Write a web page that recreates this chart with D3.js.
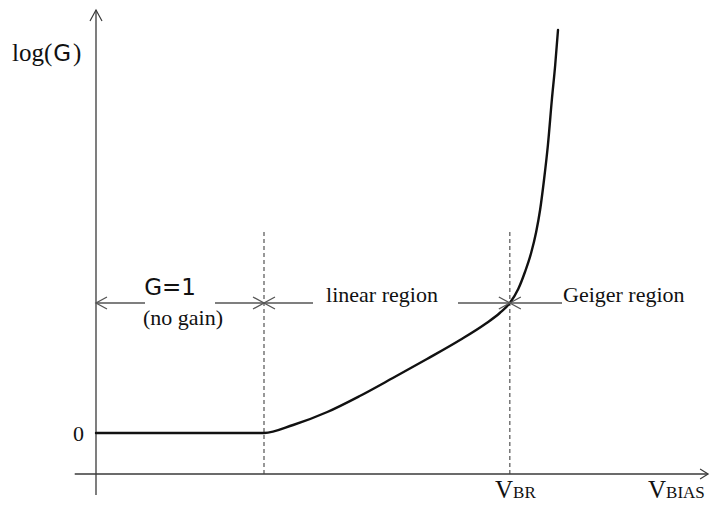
<!DOCTYPE html>
<html>
<head>
<meta charset="utf-8">
<script src="https://cdn.jsdelivr.net/npm/d3@7"></script>
<style>
  html, body { margin: 0; padding: 0; background: #fff; }
  svg { display: block; }
  .serif { font-family: "Liberation Serif", "DejaVu Serif", serif; fill: #111; }
  .sans { font-family: "DejaVu Sans", "Open Sans", sans-serif; fill: #111; }
</style>
</head>
<body>
<svg id="chart" width="711" height="506"></svg>
<script>
// Bias voltage (arbitrary units) and log gain along the gain curve
const biasV = [0, 3.0, 3.52, 4.13, 4.71, 5.30, 5.91, 6.50, 6.95, 7.21, 7.39, 7.54, 7.66, 7.77, 7.86, 7.93, 8.00, 8.07, 8.14, 8.20, 8.25];
const logGain = [0, 0, 0.16, 0.42, 0.74, 1.10, 1.48, 1.86, 2.18, 2.40, 2.60, 2.88, 3.22, 3.60, 4.02, 4.46, 5.06, 5.76, 6.66, 7.36, 8.06];

// Region boundaries: onset of gain and breakdown voltage
const kneeV = 3.0;
const breakdownV = 7.39;

const regionLabels = ["G=1", "(no gain)", "linear region", "Geiger region"];
const yTickLabels = ["0"];

const svg = d3.select("#chart");
const x = d3.scaleLinear().domain([0, 10]).range([96, 656]);
const y = d3.scaleLinear().domain([0, 8]).range([433, 33]);

const axisColor = "#3a3a3a";
const xAxisY = y(-0.82);
const xRight = x(10.93);
const yTop = y(8.46);

// open chevron arrow tip
function chevron(tx, ty, dir, len = 9, half = 5, color = axisColor, w = 1.2) {
  const g = svg.append("g").attr("transform", `translate(${tx},${ty}) rotate(${dir})`);
  g.append("path")
    .attr("d", `M${-len},${-half} L0,0 L${-len},${half}`)
    .attr("fill", "none").attr("stroke", color).attr("stroke-width", w);
}

// axes
svg.append("line").attr("x1", x(0)).attr("x2", x(0)).attr("y1", yTop).attr("y2", y(-1.24))
  .attr("stroke", axisColor).attr("stroke-width", 1.3);
chevron(x(0), yTop, -90, 11, 6);
svg.append("line").attr("x1", x(-0.38)).attr("x2", xRight).attr("y1", xAxisY).attr("y2", xAxisY)
  .attr("stroke", axisColor).attr("stroke-width", 1.3);
chevron(xRight, xAxisY, 0, 8, 5);

// dashed region boundaries
[kneeV, breakdownV].forEach(v => {
  svg.append("line").attr("x1", x(v)).attr("x2", x(v)).attr("y1", y(4.02)).attr("y2", xAxisY)
    .attr("stroke", "#444").attr("stroke-width", 1.1).attr("stroke-dasharray", "4,3");
});

// gain curve
const line = d3.line().x((d, i) => x(biasV[i])).y((d, i) => y(logGain[i])).curve(d3.curveMonotoneX);
svg.append("path").datum(biasV).attr("d", line)
  .attr("fill", "none").attr("stroke", "#111").attr("stroke-width", 2.4).attr("stroke-linecap", "round");

// region arrows
const rowY = y(2.6);
const arrowColor = "#555";
function seg(a, b) {
  svg.append("line").attr("x1", a).attr("x2", b).attr("y1", rowY).attr("y2", rowY)
    .attr("stroke", arrowColor).attr("stroke-width", 1.3);
}
seg(x(0), 145); seg(215, x(kneeV));
chevron(x(0), rowY, 180, 11, 6, arrowColor, 1.3);
chevron(x(kneeV), rowY, 0, 11, 6, arrowColor, 1.3);
seg(x(kneeV), 313); seg(458, x(breakdownV));
chevron(x(kneeV), rowY, 180, 11, 6, arrowColor, 1.3);
chevron(x(breakdownV), rowY, 0, 11, 6, arrowColor, 1.3);
seg(x(breakdownV), 562);
chevron(x(breakdownV), rowY, 180, 11, 6, arrowColor, 1.3);

// region labels
svg.append("text").attr("class", "sans").attr("x", 170).attr("y", 295)
  .attr("text-anchor", "middle").attr("font-size", 23).text(regionLabels[0]);
svg.append("text").attr("class", "serif").attr("x", 183).attr("y", 325)
  .attr("text-anchor", "middle").attr("font-size", 22).text(regionLabels[1]);
svg.append("text").attr("class", "serif").attr("x", 382).attr("y", 302)
  .attr("text-anchor", "middle").attr("font-size", 22).text(regionLabels[2]);
svg.append("text").attr("class", "serif").attr("x", 563).attr("y", 302)
  .attr("text-anchor", "start").attr("font-size", 22).text(regionLabels[3]);

// axis labels
const yl = svg.append("text").attr("class", "serif").attr("x", 12).attr("y", 61).attr("font-size", 25);
yl.append("tspan").text("log(");
yl.append("tspan").attr("font-family", "DejaVu Sans, sans-serif").attr("font-size", 23).attr("dx", 1).text("G");
yl.append("tspan").attr("dx", 2).text(")");
svg.append("text").attr("class", "serif").attr("x", 84).attr("y", y(0))
  .attr("dy", "0.35em").attr("text-anchor", "end").attr("font-size", 22).text(yTickLabels[0]);

const vbr = svg.append("text").attr("class", "serif").attr("x", 495).attr("y", 498).attr("font-size", 25);
vbr.append("tspan").text("V");
vbr.append("tspan").attr("font-size", 17).text("BR");
const vbias = svg.append("text").attr("class", "serif").attr("x", 648).attr("y", 498).attr("font-size", 25);
vbias.append("tspan").text("V");
vbias.append("tspan").attr("font-size", 17).text("BIAS");
</script>
</body>
</html>
